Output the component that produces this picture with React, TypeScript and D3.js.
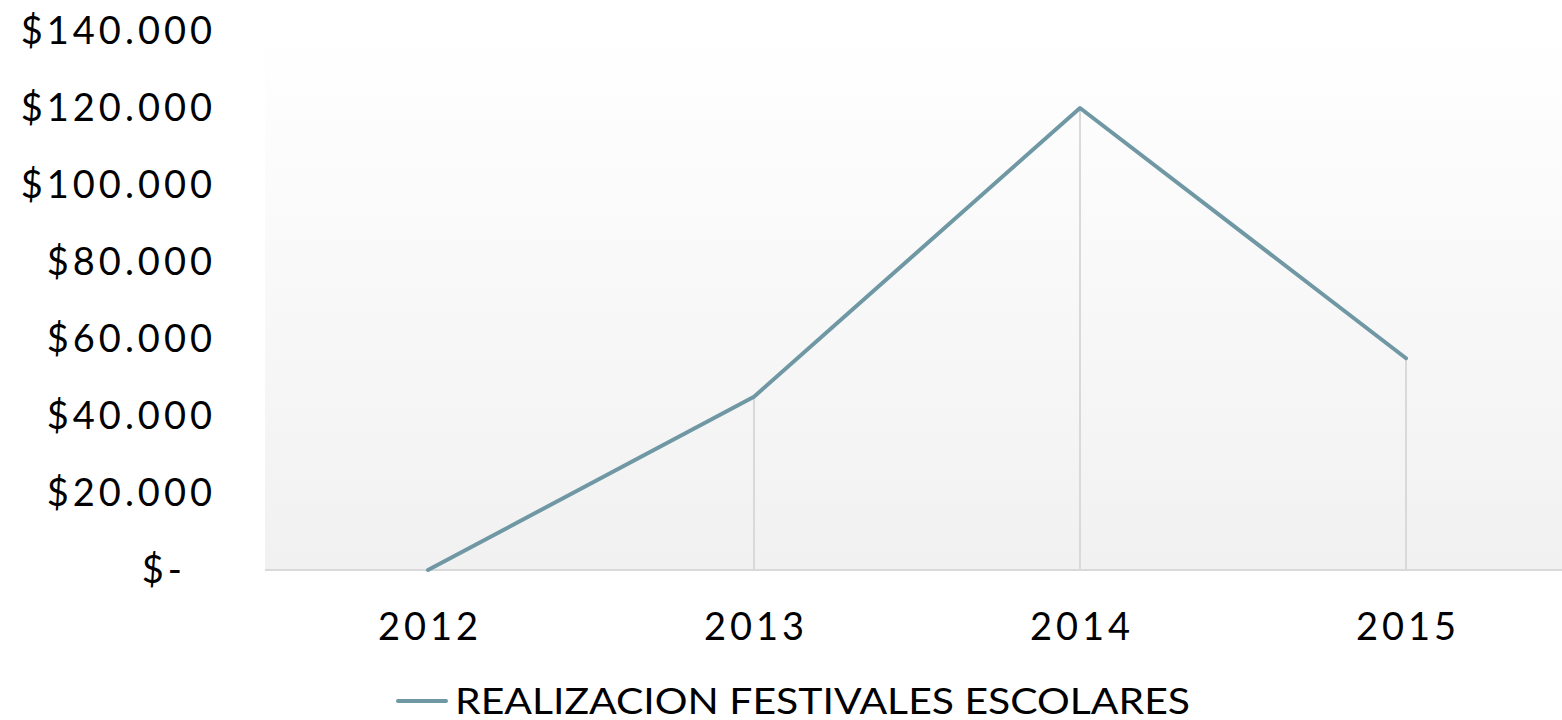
import React, { useRef, useEffect } from 'react';
import * as d3 from 'd3';

const years = ['2012', '2013', '2014', '2015'];
const festivales = [0, 45000, 120000, 55000];
const yTicks = [0, 20000, 40000, 60000, 80000, 100000, 120000, 140000];
const seriesName = 'REALIZACION FESTIVALES ESCOLARES';

const width = 1562;
const height = 720;
const font = 'Lato, "DejaVu Sans", sans-serif';
const lineColor = '#6f98a4';

const App: React.FC = () => {
  const svgRef = useRef<SVGSVGElement>(null);

  useEffect(() => {
    if (!svgRef.current) return;
    const root = d3.select(svgRef.current);
    root.selectAll('*').remove();

    const left = 265;
    const right = 1569;
    const top = 31;
    const bottom = 570;

    const x = d3.scaleBand<string>().domain(years).range([left, right]);
    const y = d3.scaleLinear().domain([0, 140000]).range([bottom, top]);
    const cx = (d: string) => (x(d) as number) + x.bandwidth() / 2;

    // background gradient of the plot area
    const defs = root.append('defs');
    const grad = defs
      .append('linearGradient')
      .attr('id', 'plotBg')
      .attr('x1', 0)
      .attr('y1', 0)
      .attr('x2', 0)
      .attr('y2', 1);
    grad.append('stop').attr('offset', '0%').attr('stop-color', '#ffffff');
    grad.append('stop').attr('offset', '100%').attr('stop-color', '#f1f1f1');

    root
      .append('rect')
      .attr('x', left)
      .attr('y', top)
      .attr('width', right - left)
      .attr('height', bottom - top)
      .attr('fill', 'url(#plotBg)');

    // drop lines
    root
      .selectAll('.drop')
      .data(years.map((yr, i) => ({ yr, v: festivales[i] })))
      .enter()
      .append('line')
      .attr('class', 'drop')
      .attr('x1', (d) => cx(d.yr))
      .attr('x2', (d) => cx(d.yr))
      .attr('y1', (d) => y(d.v))
      .attr('y2', bottom)
      .attr('stroke', '#d9d9d9')
      .attr('stroke-width', 2);

    // baseline
    root
      .append('line')
      .attr('x1', left)
      .attr('x2', right)
      .attr('y1', bottom)
      .attr('y2', bottom)
      .attr('stroke', '#d9d9d9')
      .attr('stroke-width', 2);

    // y labels
    root
      .selectAll('.ylab')
      .data(yTicks)
      .enter()
      .append('text')
      .attr('class', 'ylab')
      .attr('x', (d) => (d === 0 ? 186 : 216))
      .attr('y', (d) => y(d))
      .attr('dy', '0.35em')
      .attr('text-anchor', 'end')
      .attr('font-family', font)
      .attr('font-size', 38)
      .attr('letter-spacing', 4)
      .attr('fill', '#000')
      .text((d) => (d === 0 ? '$-' : '$' + d3.format(',')(d).replace(/,/g, '.')));

    // x labels
    root
      .selectAll('.xlab')
      .data(years)
      .enter()
      .append('text')
      .attr('class', 'xlab')
      .attr('x', (d) => cx(d) + 2)
      .attr('y', 640)
      .attr('text-anchor', 'middle')
      .attr('font-family', font)
      .attr('font-size', 38)
      .attr('letter-spacing', 4)
      .attr('fill', '#000')
      .text((d) => d);

    // series line
    const line = d3
      .line<number>()
      .x((_, i) => cx(years[i]))
      .y((d) => y(d));

    root
      .append('path')
      .datum(festivales)
      .attr('d', line)
      .attr('fill', 'none')
      .attr('stroke', lineColor)
      .attr('stroke-width', 4)
      .attr('stroke-linejoin', 'round')
      .attr('stroke-linecap', 'round');

    // legend
    root
      .append('line')
      .attr('x1', 398)
      .attr('x2', 446)
      .attr('y1', 701)
      .attr('y2', 701)
      .attr('stroke', lineColor)
      .attr('stroke-width', 4)
      .attr('stroke-linecap', 'round');

    root
      .append('text')
      .attr('x', 455)
      .attr('y', 714)
      .attr('font-family', font)
      .attr('font-size', 36)
      .attr('textLength', 735)
      .attr('lengthAdjust', 'spacingAndGlyphs')
      .attr('fill', '#000')
      .text(seriesName);
  }, []);

  return (
    <svg
      ref={svgRef}
      width={width}
      height={height}
      style={{ display: 'block', position: 'absolute', left: 0, top: 0 }}
    />
  );
};

export default App;
